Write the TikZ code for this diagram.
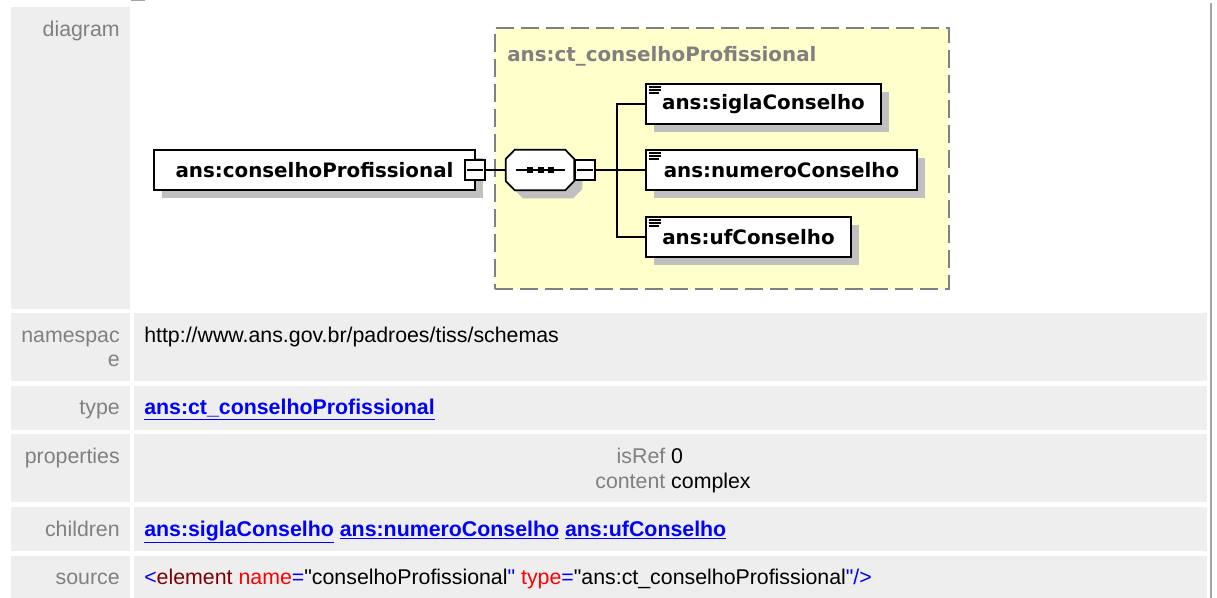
\documentclass[tikz,border=0pt]{standalone}
\usepackage{fontspec}
\setmainfont{Liberation Sans}
\newfontfamily\xsdfont{DejaVu Sans}
\usepackage{xcolor}
\usetikzlibrary{calc,shadows}
\definecolor{cellgray}{RGB}{238,238,238}
\definecolor{labgray}{RGB}{128,128,128}
\definecolor{rimgray}{RGB}{165,165,165}
\definecolor{shgray}{RGB}{192,192,192}
\definecolor{boxyellow}{RGB}{255,255,204}
\definecolor{linkblue}{RGB}{0,0,255}
\definecolor{tagred}{RGB}{128,0,0}
\definecolor{attrred}{RGB}{255,0,0}
\newcommand{\lnk}[1]{{\color{linkblue}\bfseries\underline{#1}}}
\newcommand{\qt}{\textquotedbl}

\begin{document}
\begin{tikzpicture}[x=0.75pt,y=-0.75pt,
  sh/.style={drop shadow={opacity=1,fill=shgray,shadow xshift=6pt,shadow yshift=-6pt}},
  el/.style={draw,line width=1.3pt,fill=white,inner sep=0pt,minimum height=30pt,sh,
    font=\xsdfont\bfseries\fontsize{14.9}{16}\selectfont},
  mb/.style={draw,line width=1.1pt,fill=white,inner sep=0pt,minimum size=15pt},
  lab/.style={anchor=base east,inner sep=0pt,text=labgray,font=\fontsize{16}{18.75}\selectfont},
  txt/.style={anchor=base west,inner sep=0pt,font=\fontsize{16}{18.75}\selectfont},
  con/.style={line width=1.3pt}]
\useasboundingbox (0,0) rectangle (1217,598);
\fill[white] (0,0) rectangle (1217,598);
% table cells
\fill[cellgray] (11,7) rectangle (130,309);
\foreach \ya/\yb in {313/381,386/430,434/502,507/551,556/598} {
  \fill[cellgray] (11,\ya) rectangle (130,\yb);
  \fill[cellgray] (134,\ya) rectangle (1207,\yb);
}
\fill[rimgray] (1210,3) rectangle (1212,598);
\fill[rimgray] (131,0) rectangle (145,1.5);
% row labels
\node[lab] (ldiag) at (120,37) {diagram};
\node[lab] (lns) at (120,343) {namespac};
\node[lab] (lnsb) at (120,367) {e};
\node[lab] (ltype) at (120,415) {type};
\node[lab] (lprop) at (120,463) {properties};
\node[lab] (lchild) at (120,536) {children};
\node[lab] (lsrc) at (120,584) {source};
% row contents
\node[txt] (ns) at (144,343) {http://www.ans.gov.br/padroes/tiss/schemas};
\node[txt] (type) at (144,415) {\lnk{ans:ct\_conselhoProfissional}};
\node[anchor=base,inner sep=0pt,font=\fontsize{16}{18.75}\selectfont] (prop) at (673,463)
  {\begin{tabular}[t]{@{}r@{\ }l@{}}\color{labgray}isRef & 0\\ \color{labgray}content & complex\end{tabular}};
\node[txt] (kids) at (144,536) {\lnk{ans:siglaConselho} \lnk{ans:numeroConselho} \lnk{ans:ufConselho}};
\node[txt] (src) at (144,584) {\textcolor{linkblue}{<}\textcolor{tagred}{element} \textcolor{attrred}{name}\textcolor{linkblue}{=}\qt conselhoProfissional\textcolor{linkblue}{\qt} \textcolor{attrred}{type}\textcolor{linkblue}{=}\qt ans:ct\_conselhoProfissional\textcolor{linkblue}{\qt/>}};
% diagram
\node[draw=labgray,dash pattern=on 13.5pt off 5.25pt,line width=1.5pt,fill=boxyellow,
  minimum width=340.5pt,minimum height=195.75pt,inner sep=0pt] (ct) at (722,158.5) {};
\node[anchor=base west,inner sep=0pt,text=labgray,font=\xsdfont\bfseries\fontsize{14.9}{16}\selectfont]
  (cttitle) at ($(ct.north west)+(13,35)$) {ans:ct\_conselhoProfissional};
\node[el,minimum width=240.75pt] (elem) at (314.5,170) {ans:conselhoProfissional};
\node[mb] (em) at (475,170) {};
\draw[line width=1pt] ($(em.west)+(3,0)$) -- ($(em.east)+(-3,0)$);
\node[minimum width=51pt,minimum height=30pt,inner sep=0pt] (seq) at (540,170) {};
\draw[con,fill=white,sh] ($(seq.west)+(0,-11)$) -- ($(seq.north west)+(9,0)$)
  -- ($(seq.north east)+(-9,0)$) -- ($(seq.east)+(0,-11)$) -- ($(seq.east)+(0,11)$)
  -- ($(seq.south east)+(-9,0)$) -- ($(seq.south west)+(9,0)$) -- ($(seq.west)+(0,11)$) -- cycle;
\draw[line width=1pt] ($(seq.center)+(-24,0)$) -- ($(seq.center)+(25,0)$);
\foreach \dx in {-10,1,11} \fill ($(seq.center)+(\dx,0)$) +(-3,-3) rectangle +(3,3);
\node[mb] (sm) at (585,170) {};
\draw[line width=1pt] ($(sm.west)+(3,0)$) -- ($(sm.east)+(-3,0)$);
\node[el,minimum width=176.25pt] (sigla) at (763.5,104) {ans:siglaConselho};
\node[el,minimum width=203.25pt] (numero) at (781.5,170) {ans:numeroConselho};
\node[el,minimum width=153.75pt] (uf) at (748.5,237) {ans:ufConselho};
\foreach \n in {sigla,numero,uf} {
  \foreach \d/\l in {4/12,7/12,10/10}
    \draw[line width=1pt] ($(\n.north west)+(4,\d)$) -- ++(\l,0);
}
\coordinate (br) at (617,170);
\draw[con] (em) -- (seq);
\draw[con] (sm) -- (br);
\draw[con] (br) |- (sigla.west);
\draw[con] (br) -- (numero.west);
\draw[con] (br) |- (uf.west);
\end{tikzpicture}
\end{document}
